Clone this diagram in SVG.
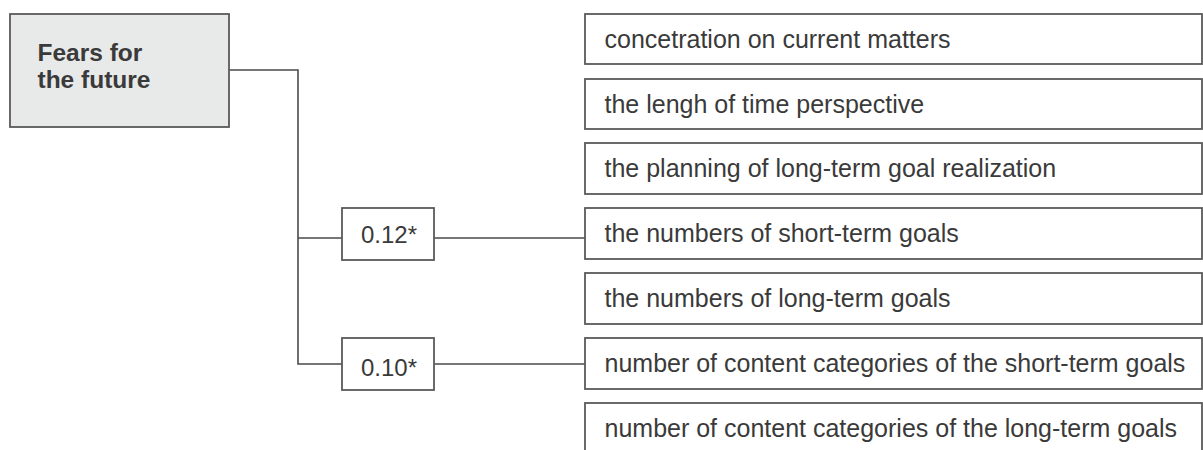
<svg xmlns="http://www.w3.org/2000/svg" width="1203" height="450" viewBox="0 0 1203 450">
  <style>
    .box { fill: #ffffff; stroke: #5a5a5a; stroke-width: 1.8; }
    .root { fill: #e8e9e9; stroke: #5a5a5a; stroke-width: 1.8; }
    .lbl { font-family: "Liberation Sans", Arial, sans-serif; font-size: 25px; fill: #3a3a3a; }
    .head { font-family: "Liberation Sans", Arial, sans-serif; font-size: 24.5px; font-weight: bold; fill: #3a3a3a; }
    .coef { font-family: "Liberation Sans", Arial, sans-serif; font-size: 24px; fill: #3a3a3a; }
    .wire { fill: none; stroke: #4a4a4a; stroke-width: 1.6; }
  </style>
  <rect width="1203" height="450" fill="#ffffff"/>

  <!-- connectors -->
  <g id="connectors">
    <polyline class="wire" points="229,70 298,70 298,364 342,364"/>
    <line class="wire" x1="298" y1="238" x2="342" y2="238"/>
    <line class="wire" x1="434" y1="238" x2="585" y2="238"/>
    <line class="wire" x1="434" y1="364" x2="585" y2="364"/>
  </g>

  <!-- source factor -->
  <g id="fears">
    <rect class="root" x="10" y="14" width="219" height="113"/>
    <text class="head" x="37.5" y="61">Fears for</text>
    <text class="head" x="37.5" y="88">the future</text>
  </g>

  <!-- coefficients -->
  <g id="coef-012">
    <rect class="box" x="342" y="208" width="92" height="52"/>
    <text class="coef" x="361" y="243">0.12*</text>
  </g>
  <g id="coef-010">
    <rect class="box" x="342" y="338" width="92" height="52"/>
    <text class="coef" x="361" y="376">0.10*</text>
  </g>

  <!-- time perspective measures -->
  <g id="m1">
    <rect class="box" x="585" y="14" width="617" height="50"/>
    <text class="lbl" x="604.5" y="47.5">concetration on current matters</text>
  </g>
  <g id="m2">
    <rect class="box" x="585" y="79" width="617" height="50"/>
    <text class="lbl" x="604.5" y="112.5">the lengh of time perspective</text>
  </g>
  <g id="m3">
    <rect class="box" x="585" y="143" width="617" height="51"/>
    <text class="lbl" x="604.5" y="177">the planning of long-term goal realization</text>
  </g>
  <g id="m4">
    <rect class="box" x="585" y="208" width="617" height="51"/>
    <text class="lbl" x="604.5" y="242">the numbers of short-term goals</text>
  </g>
  <g id="m5">
    <rect class="box" x="585" y="273" width="617" height="51"/>
    <text class="lbl" x="604.5" y="307">the numbers of long-term goals</text>
  </g>
  <g id="m6">
    <rect class="box" x="585" y="338" width="617" height="51"/>
    <text class="lbl" x="604.5" y="372">number of content categories of the short-term goals</text>
  </g>
  <g id="m7">
    <rect class="box" x="585" y="403" width="617" height="51"/>
    <text class="lbl" x="604.5" y="437">number of content categories of the long-term goals</text>
  </g>
</svg>
